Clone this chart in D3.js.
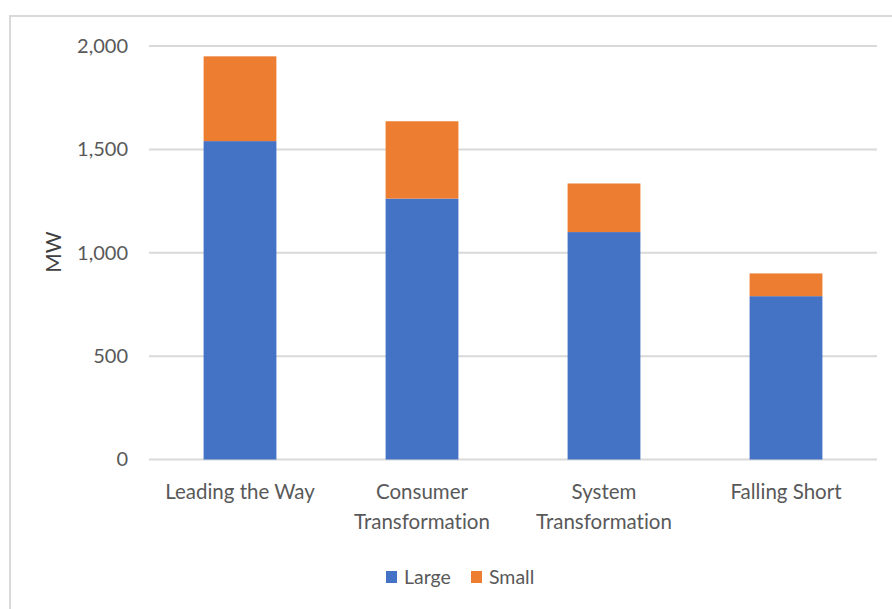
<!DOCTYPE html>
<html>
<head>
<meta charset="utf-8">
<script src="https://cdn.jsdelivr.net/npm/d3@7"></script>
<style>
  body{margin:0;background:#fff;}
  text{font-family:Lato,"Open Sans",sans-serif;fill:#595959;font-variant-ligatures:none;}
</style>
</head>
<body>
<svg id="chart"></svg>
<script>
// data
var scenarios=["Leading the Way","Consumer Transformation","System Transformation","Falling Short"]
var labelLines=[["Leading the Way"],["Consumer","Transformation"],["System","Transformation"],["Falling Short"]]
var large=[1540,1262,1100,790]
var small=[410,374,235,110]
var seriesNames=["Large","Small"]
var seriesColors=["#4472c4","#ed7d31"]
var yTicks=[0,500,1000,1500,2000]

var screen={width:892,height:609}
var margins={left:149,right:15,top:46,bottom:150}
var graph={
    width:728,
    height:459.5-46
}

var svg=d3.select("#chart")
    .attr("width",screen.width)
    .attr("height",screen.height)

//outer frame
svg.append("rect")
    .attr("x",10).attr("y",16)
    .attr("width",900).attr("height",700)
    .attr("fill","none")
    .attr("stroke","#d9d9d9")
    .attr("stroke-width",2)

var xScale=d3.scaleBand()
    .domain(scenarios)
    .range([0,graph.width])
    .paddingInner(0.6)
    .paddingOuter(0.3)
var yScale=d3.scaleLinear()
    .domain([0,2000])
    .range([graph.height,0])

var plot=svg.append("g")
    .attr("transform","translate("+margins.left+","+margins.top+")")

//gridlines
plot.append("g")
    .selectAll("line")
    .data(yTicks)
    .enter()
    .append("line")
    .attr("x1",0)
    .attr("x2",graph.width)
    .attr("y1",function(d){return yScale(d)})
    .attr("y2",function(d){return yScale(d)})
    .attr("stroke","#d9d9d9")
    .attr("stroke-width",2)

//stacked bars
var rows=scenarios.map(function(s,i){return {name:s,Large:large[i],Small:small[i]}})
var stacked=d3.stack().keys(seriesNames)(rows)

plot.append("g")
    .selectAll("g")
    .data(stacked)
    .enter()
    .append("g")
    .attr("fill",function(d,i){return seriesColors[i]})
    .selectAll("rect")
    .data(function(d){return d})
    .enter()
    .append("rect")
    .attr("x",function(d){return xScale(d.data.name)})
    .attr("width",xScale.bandwidth())
    .attr("y",function(d){return yScale(d[1])})
    .attr("height",function(d){return yScale(d[0])-yScale(d[1])})

//y axis labels
var yAxis=d3.axisLeft(yScale)
    .tickValues(yTicks)
    .tickFormat(d3.format(","))
    .tickSize(0)
    .tickPadding(21)
var yg=plot.append("g").call(yAxis)
yg.select(".domain").remove()
yg.selectAll("text")
    .attr("font-size",20)
    .attr("font-family",null)
    .attr("fill",null)

//category labels
var catLabels=plot.append("g")
    .selectAll("text")
    .data(labelLines)
    .enter()
    .append("text")
    .attr("text-anchor","middle")
    .attr("font-size",20.5)
    .attr("x",function(d,i){return xScale(scenarios[i])+xScale.bandwidth()/2})
    .attr("y",graph.height+39)
catLabels.selectAll("tspan")
    .data(function(d){return d})
    .enter()
    .append("tspan")
    .attr("x",function(){return d3.select(this.parentNode).attr("x")})
    .attr("dy",function(d,i){return i==0?0:30})
    .text(function(d){return d})

//y title
svg.append("text")
    .text("MW")
    .attr("text-anchor","middle")
    .attr("font-size",21)
    .style("fill","#404040")
    .attr("transform","translate(61,252) rotate(-90)")

//legend
var legend=svg.append("g")
    .attr("transform","translate(386,571)")
var items=legend.selectAll("g")
    .data(seriesNames)
    .enter()
    .append("g")
    .attr("transform",function(d,i){return "translate("+(i*85)+",0)"})
items.append("rect")
    .attr("width",11)
    .attr("height",12)
    .attr("fill",function(d,i){return seriesColors[i]})
items.append("text")
    .text(function(d){return d})
    .attr("x",18)
    .attr("y",13)
    .attr("font-size",19.5)
</script>
</body>
</html>
